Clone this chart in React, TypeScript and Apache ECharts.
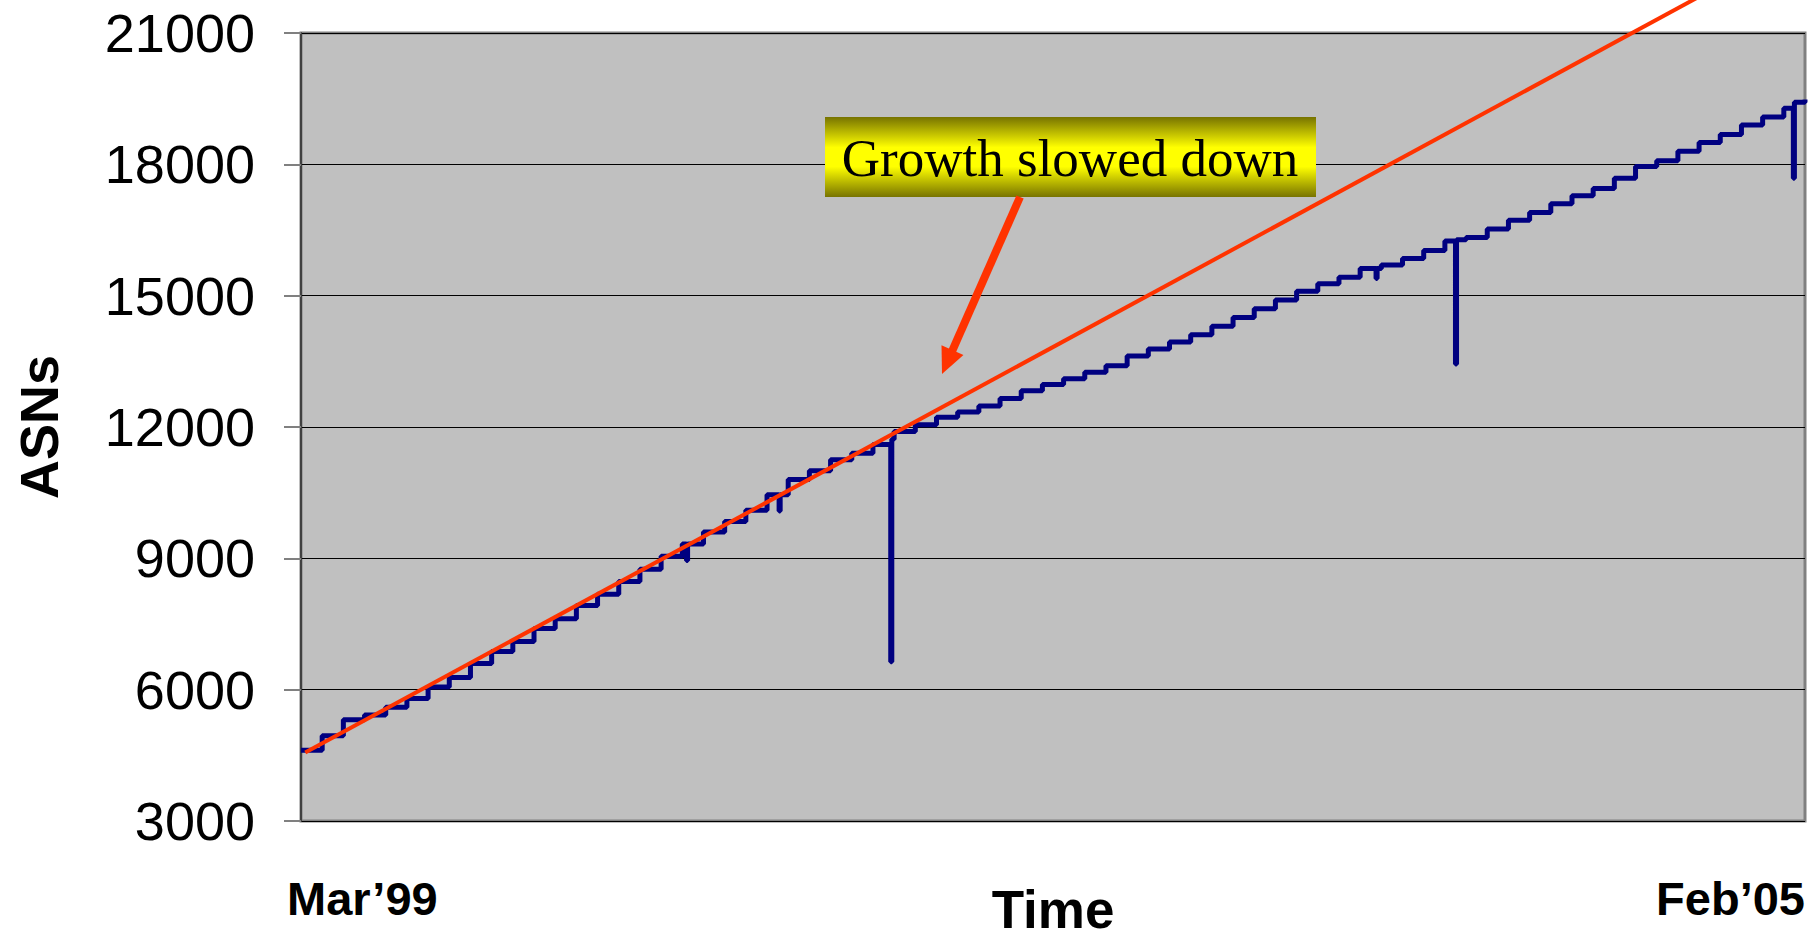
import React, { useEffect, useRef } from "react";
import * as echarts from "echarts";

// x axis: months since Mar'99 (0 = Mar'99, 71 = Feb'05)
const xTickLabels = ["Mar’99", "Feb’05"];
const lastMonth = 71;

// y axis ticks
const yMin = 3000;
const yMax = 21000;
const yStep = 3000;

// ASN count, one reading per month (Mar'99 .. Feb'05)
const asnMonthly = [
  4617, 4950, 5310, 5420, 5600, 5800, 6060, 6280, 6600, 6870,
  7100, 7400, 7620, 7920, 8180, 8470, 8750, 9050, 9330, 9600,
  9840, 10100, 10450, 10800, 11000, 11250, 11400, 11600, 11900, 12050,
  12220, 12340, 12480, 12650, 12830, 12970, 13100, 13250, 13400, 13620,
  13780, 13940, 14110, 14300, 14500, 14700, 14900, 15100, 15270, 15420,
  15620, 15700, 15850, 16030, 16250, 16330, 16520, 16720, 16900, 17100,
  17280, 17450, 17680, 17950, 18080, 18300, 18500, 18680, 18900, 19080,
  19280, 19480,
];

// short-lived drops in the data
const spikeMonths = [18.2, 22.57, 27.84, 50.75, 54.5, 70.45];
const spikeLows = [8950, 10080, 6640, 15390, 13440, 17680];
const spikeReturns = [9330, 10450, 11720, 15620, 16280, 19420];

// linear growth trend
const trendMonths = [0.2, 66];
const trendValues = [4563, 21830];

const sansFont = '"Liberation Sans", Arial, Helvetica, sans-serif';
const serifFont = '"Liberation Serif", "Times New Roman", Times, serif';

export default function App() {
  const ref = useRef<HTMLDivElement>(null);

  useEffect(() => {
    if (!ref.current) return;
    const chart = echarts.init(ref.current, null, { renderer: "svg" });

    const asnData: number[][] = asnMonthly.map((v, i) => [i, v]);
    spikeMonths.forEach((m, i) => {
      asnData.push([m, spikeLows[i]]);
      asnData.push([m + 0.05, spikeReturns[i]]);
    });
    asnData.sort((a, b) => a[0] - b[0]);

    const trendData = trendMonths.map((m, i) => [m, trendValues[i]]);

    // arrow geometry (annotation)
    const ax0 = 1020, ay0 = 197, ax1 = 942, ay1 = 374;
    const dx = ax1 - ax0, dy = ay1 - ay0;
    const len = Math.sqrt(dx * dx + dy * dy);
    const ux = dx / len, uy = dy / len;
    const headLen = 26, headHalf = 12;
    const bx = ax1 - ux * headLen, by = ay1 - uy * headLen;
    const px = -uy, py = ux;

    chart.setOption({
      animation: false,
      backgroundColor: "#ffffff",
      grid: {
        left: 301,
        right: 6,
        top: 33,
        bottom: 119,
        containLabel: false,
        outerBoundsMode: "none",
        show: true,
        backgroundColor: "#C0C0C0",
        borderColor: "#808080",
        borderWidth: 3,
      },
      xAxis: {
        type: "value",
        min: 0,
        max: lastMonth,
        interval: lastMonth,
        name: "Time",
        nameLocation: "middle",
        nameGap: 62,
        nameMoveOverlap: false,
        nameTextStyle: {
          fontSize: 53,
          fontWeight: "bold",
          fontFamily: sansFont,
          color: "#000",
        },
        axisLine: { show: false },
        axisTick: { show: false },
        splitLine: { show: false },
        axisLabel: {
          formatter: (v: number) =>
            v === 0 ? xTickLabels[0] : v === lastMonth ? xTickLabels[1] : "",
          fontSize: 47,
          fontWeight: "bold",
          fontFamily: sansFont,
          color: "#000",
          margin: 54,
          showMinLabel: true,
          showMaxLabel: true,
          alignMinLabel: "left",
          alignMaxLabel: "right",
          padding: [0, 0, 0, -14],
        },
      },
      yAxis: {
        type: "value",
        min: yMin,
        max: yMax,
        interval: yStep,
        name: "ASNs",
        nameLocation: "middle",
        nameGap: 235,
        nameMoveOverlap: false,
        nameTextStyle: {
          fontSize: 54,
          fontWeight: "bold",
          fontFamily: sansFont,
          color: "#000",
        },
        axisLine: { show: true, lineStyle: { color: "#404040", width: 2 } },
        axisTick: {
          show: true,
          inside: false,
          length: 17,
          lineStyle: { color: "#808080", width: 2 },
        },
        splitLine: { show: true, lineStyle: { color: "#000000", width: 1 } },
        axisLabel: {
          formatter: (v: number) => String(v),
          fontSize: 54,
          fontFamily: sansFont,
          color: "#000",
          margin: 46,
        },
      },
      series: [
        {
          name: "ASNs",
          type: "line",
          data: asnData,
          step: "end",
          showSymbol: false,
          symbol: "none",
          lineStyle: { color: "#000080", width: 5 },
          z: 3,
        },
        {
          name: "Trend",
          type: "line",
          data: trendData,
          clip: false,
          showSymbol: false,
          symbol: "none",
          lineStyle: { color: "#FF3300", width: 4 },
          z: 4,
        },
      ],
      graphic: [
        {
          type: "rect",
          z: 100,
          shape: { x: 825, y: 117, width: 491, height: 80 },
          style: {
            fill: new echarts.graphic.LinearGradient(0, 0, 0, 1, [
              { offset: 0, color: "#777300" },
              { offset: 0.38, color: "#ffff00" },
              { offset: 0.62, color: "#ffff00" },
              { offset: 1, color: "#777300" },
            ]),
          },
        },
        {
          type: "text",
          z: 101,
          x: 1070,
          y: 158,
          style: {
            text: "Growth slowed down",
            fontSize: 53,
            fontFamily: serifFont,
            fill: "#000",
            align: "center",
            verticalAlign: "middle",
          },
        },
        {
          type: "line",
          z: 100,
          shape: { x1: ax0, y1: ay0, x2: bx + ux * 2, y2: by + uy * 2 },
          style: { stroke: "#FF3300", lineWidth: 8 },
        },
        {
          type: "polygon",
          z: 100,
          shape: {
            points: [
              [ax1, ay1],
              [bx + px * headHalf, by + py * headHalf],
              [bx - px * headHalf, by - py * headHalf],
            ],
          },
          style: { fill: "#FF3300" },
        },
      ],
    });

    return () => chart.dispose();
  }, []);

  return (
    <div
      ref={ref}
      style={{ position: "fixed", left: 0, top: 0, width: 1811, height: 940 }}
    />
  );
}
